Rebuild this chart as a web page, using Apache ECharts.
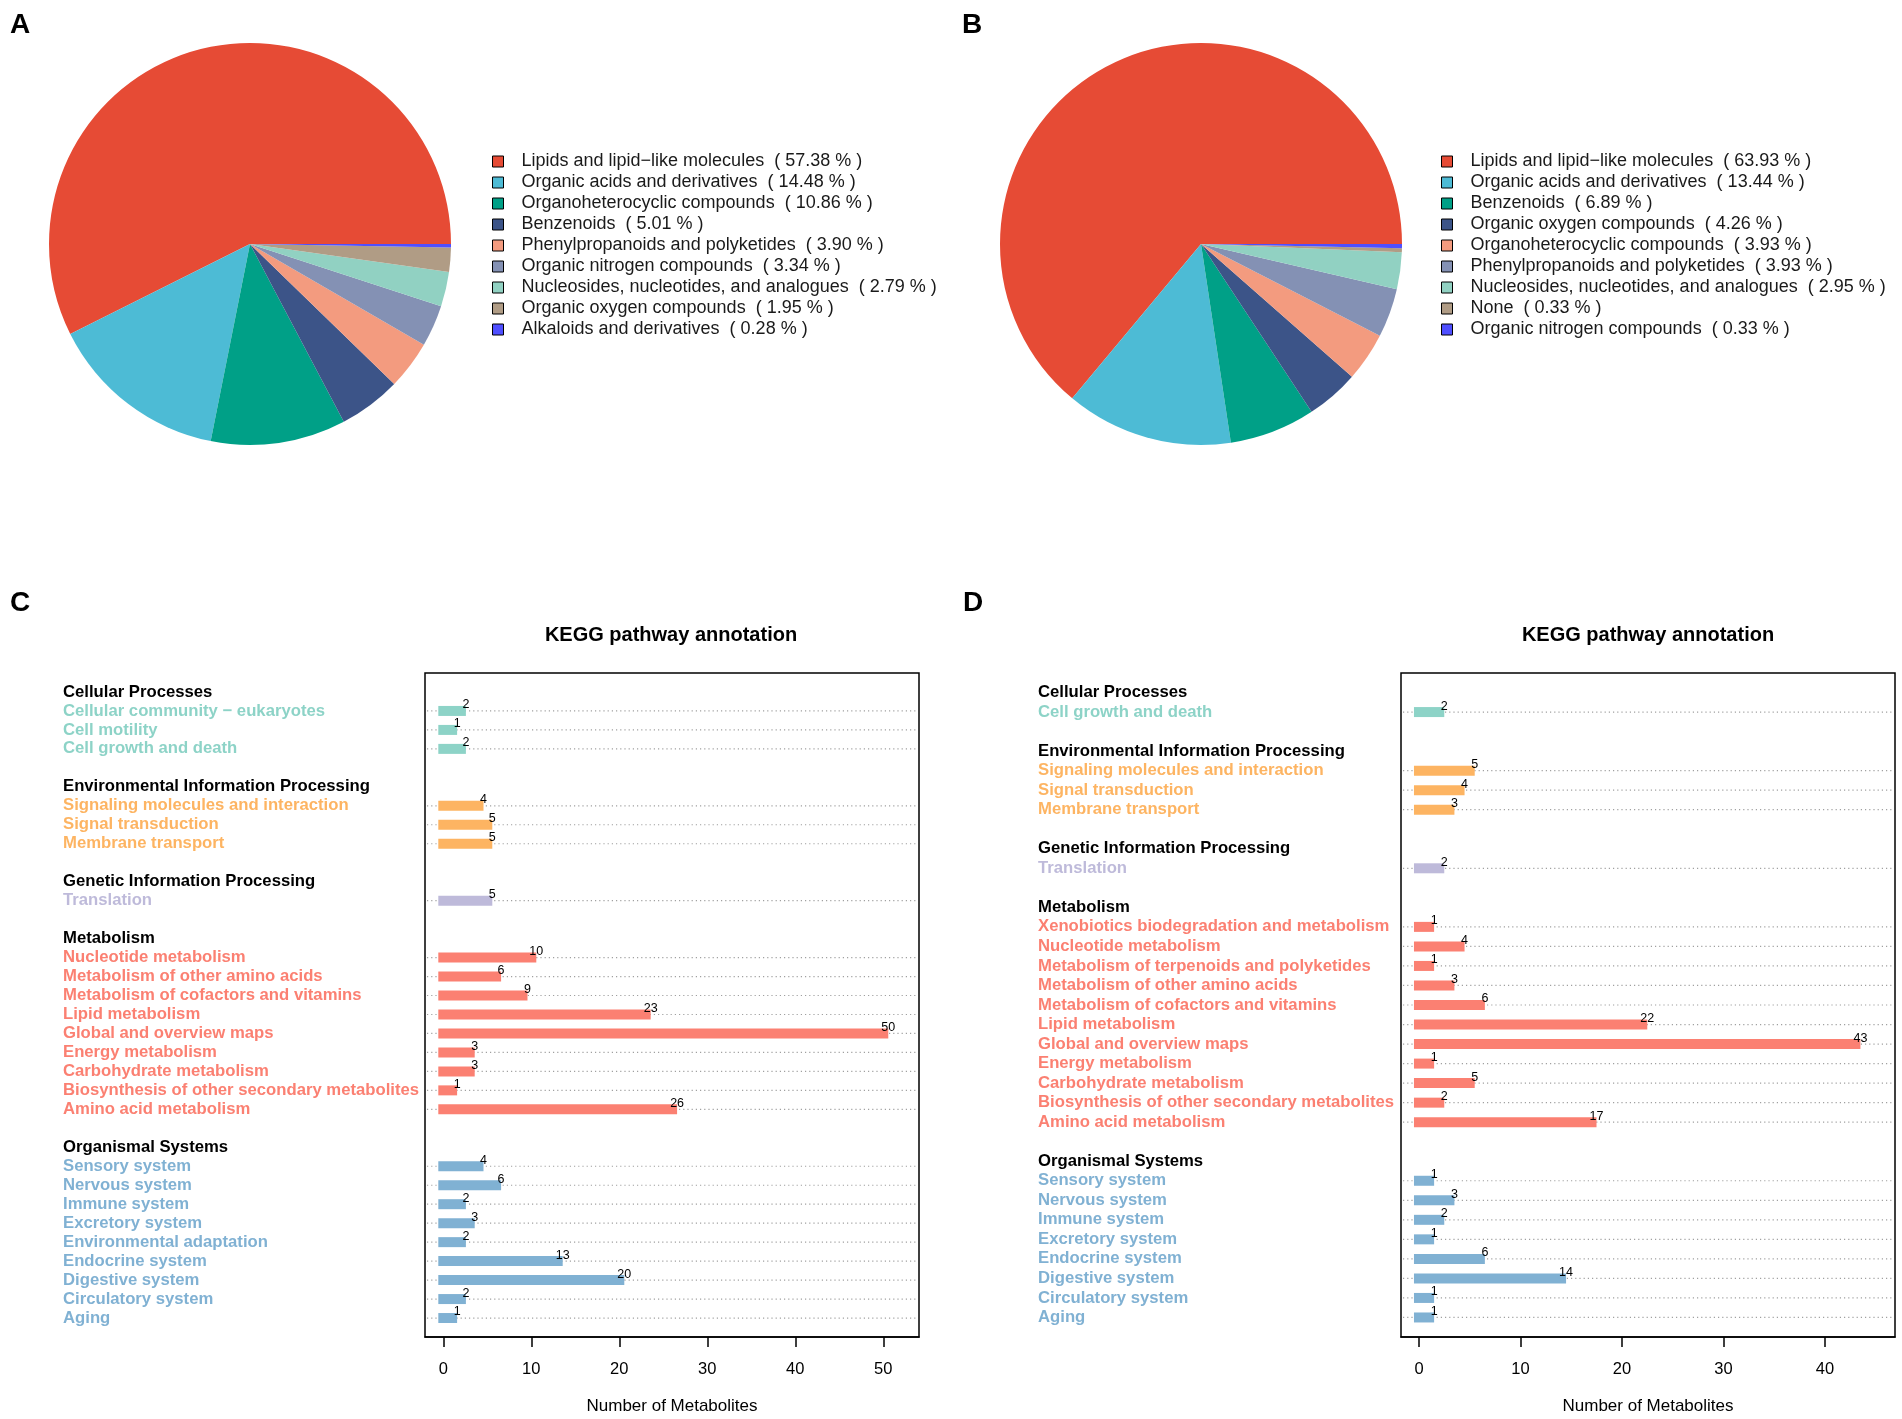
<!DOCTYPE html>
<html><head><meta charset="utf-8">
<script src="https://cdn.jsdelivr.net/npm/echarts@6/dist/echarts.min.js"></script>
<style>html,body{margin:0;padding:0;background:#fff}#c{width:1902px;height:1419px}</style>
</head><body><div id="c"></div>
<script>
const FONT = '"Liberation Sans", Arial, Helvetica, sans-serif';

// ---- Panel A (pie) ----
const pieACategories = ['Lipids and lipid\u2212like molecules','Organic acids and derivatives','Organoheterocyclic compounds','Benzenoids','Phenylpropanoids and polyketides','Organic nitrogen compounds','Nucleosides, nucleotides, and analogues','Organic oxygen compounds','Alkaloids and derivatives'];
const pieAPercents = [57.38, 14.48, 10.86, 5.01, 3.90, 3.34, 2.79, 1.95, 0.28];

// ---- Panel B (pie) ----
const pieBCategories = ['Lipids and lipid\u2212like molecules','Organic acids and derivatives','Benzenoids','Organic oxygen compounds','Organoheterocyclic compounds','Phenylpropanoids and polyketides','Nucleosides, nucleotides, and analogues','None','Organic nitrogen compounds'];
const pieBPercents = [63.93, 13.44, 6.89, 4.26, 3.93, 3.93, 2.95, 0.33, 0.33];

const pieColors = ['#E64B35','#4DBBD5','#00A087','#3C5488','#F39B7F','#8491B4','#91D1C2','#B09C85','#4F4FFF'];

// ---- KEGG groups ----
const keggGroups = ['Cellular Processes','Environmental Information Processing','Genetic Information Processing','Metabolism','Organismal Systems'];
const keggGroupColors = ['#8DD3C7','#FDB462','#BEBADA','#FB8072','#80B1D3'];

// ---- Panel C ----
const cPathways = ['Cellular community \u2212 eukaryotes','Cell motility','Cell growth and death',
  'Signaling molecules and interaction','Signal transduction','Membrane transport',
  'Translation',
  'Nucleotide metabolism','Metabolism of other amino acids','Metabolism of cofactors and vitamins','Lipid metabolism','Global and overview maps','Energy metabolism','Carbohydrate metabolism','Biosynthesis of other secondary metabolites','Amino acid metabolism',
  'Sensory system','Nervous system','Immune system','Excretory system','Environmental adaptation','Endocrine system','Digestive system','Circulatory system','Aging'];
const cGroupIdx = [0,0,0, 1,1,1, 2, 3,3,3,3,3,3,3,3,3, 4,4,4,4,4,4,4,4,4];
const cCounts = [2,1,2, 4,5,5, 5, 10,6,9,23,50,3,3,1,26, 4,6,2,3,2,13,20,2,1];
const cTicks = [0,10,20,30,40,50];

// ---- Panel D ----
const dPathways = ['Cell growth and death',
  'Signaling molecules and interaction','Signal transduction','Membrane transport',
  'Translation',
  'Xenobiotics biodegradation and metabolism','Nucleotide metabolism','Metabolism of terpenoids and polyketides','Metabolism of other amino acids','Metabolism of cofactors and vitamins','Lipid metabolism','Global and overview maps','Energy metabolism','Carbohydrate metabolism','Biosynthesis of other secondary metabolites','Amino acid metabolism',
  'Sensory system','Nervous system','Immune system','Excretory system','Endocrine system','Digestive system','Circulatory system','Aging'];
const dGroupIdx = [0, 1,1,1, 2, 3,3,3,3,3,3,3,3,3,3,3, 4,4,4,4,4,4,4,4];
const dCounts = [2, 5,4,3, 2, 1,4,1,3,6,22,43,1,5,2,17, 1,3,2,1,6,14,1,1];
const dTicks = [0,10,20,30,40];

function buildSlots(names, groups, counts){
  const cats=[''], kinds=[-1], bars=[];
  let prev=null;
  names.forEach((n,i)=>{
    const g=groups[i];
    if(g!==prev){
      if(prev!==null){cats.push(''); kinds.push(-1);}
      cats.push(keggGroups[g]); kinds.push(-2); prev=g;
    }
    cats.push(n); kinds.push(g);
    bars.push([counts[i], cats.length-1, g]);
  });
  cats.push(''); kinds.push(-1);
  return {cats,kinds,bars};
}
const slotsC = buildSlots(cPathways, cGroupIdx, cCounts);
const slotsD = buildSlots(dPathways, dGroupIdx, dCounts);

const LBL = 16.7;
const rich = {h:{fontSize:LBL,fontWeight:'bold',color:'#000',fontFamily:FONT}};
keggGroupColors.forEach((c,i)=>{rich['g'+i]={fontSize:LBL,fontWeight:'bold',color:c,fontFamily:FONT};});

function labelFormatter(kinds){
  return function(v,i){
    const k=kinds[i];
    if(k===-1||!v) return '';
    if(k===-2) return '{h|'+v+'}';
    return '{g'+k+'|'+v+'}';
  };
}

function renderBar(params, api){
  const v=api.value(0), s=api.value(1), g=api.value(2);
  const p0=api.coord([0,s]), p1=api.coord([v,s]);
  const cs=params.coordSys;
  const h=10, ext=5;
  return {type:'group', children:[
    {type:'line', shape:{x1:cs.x+2, y1:p0[1], x2:cs.x+cs.width-1, y2:p0[1]}, style:{stroke:'#a0a0a0', lineWidth:1.2, lineDash:[1.2,3]}},
    {type:'rect', shape:{x:p0[0]-ext, y:p0[1]-h/2, width:p1[0]-p0[0]+2*ext, height:h}, style:{fill:keggGroupColors[g]}},
    {type:'text', x:p1[0]+ext, y:p0[1]-6, style:{text:String(v), fill:'#000', fontSize:12.5, fontFamily:FONT, align:'center', verticalAlign:'middle'}}
  ]};
}

function pieData(cats, pcts){
  return cats.map((c,i)=>({name:c+'  ( '+pcts[i].toFixed(2)+' % )', value:pcts[i], itemStyle:{color:pieColors[i]}}));
}
const dataA=pieData(pieACategories,pieAPercents);
const dataB=pieData(pieBCategories,pieBPercents);

function legendCfg(left, data){
  return {orient:'vertical', left:left, top:146, data:data.map(d=>d.name), icon:'rect', itemWidth:11, itemHeight:11, itemGap:0,
    selectedMode:false, itemStyle:{borderColor:'#000', borderWidth:1},
    textStyle:{fontSize:18, lineHeight:21, color:'#1a1a1a', fontFamily:FONT, padding:[0,0,0,13]}};
}

function xAxisCfg(gi, min, max, ticks){
  return {gridIndex:gi, type:'value', min:min, max:max, splitLine:{show:false},
    axisLine:{show:true, lineStyle:{color:'#000', width:1.5}},
    axisTick:{show:true, length:10, customValues:ticks, lineStyle:{color:'#000', width:1.5}},
    axisLabel:{customValues:ticks, margin:24, fontSize:16.5, color:'#000', fontFamily:FONT},
    name:'Number of Metabolites', nameLocation:'middle', nameGap:61,
    nameTextStyle:{fontSize:17, color:'#000', fontFamily:FONT}};
}
function yAxisCfg(gi, slots, margin){
  return {gridIndex:gi, type:'category', inverse:true, boundaryGap:false, data:slots.cats,
    axisLine:{show:false}, axisTick:{show:false}, splitLine:{show:false},
    axisLabel:{interval:0, align:'left', margin:margin, formatter:labelFormatter(slots.kinds), rich:rich}};
}

const chart=echarts.init(document.getElementById('c'), null, {renderer:'canvas'});
chart.setOption({
  backgroundColor:'#fff',
  animation:false,
  textStyle:{fontFamily:FONT},
  legend:[legendCfg(487,dataA), legendCfg(1436,dataB)],
  grid:[
    {left:425, top:673, width:494, height:664, show:true, borderColor:'#000', borderWidth:1.5, outerBoundsMode:'none'},
    {left:1401, top:673, width:494, height:664, show:true, borderColor:'#000', borderWidth:1.5, outerBoundsMode:'none'}
  ],
  xAxis:[xAxisCfg(0,-2.08,54.06,cTicks), xAxisCfg(1,-1.77,46.9,dTicks)],
  yAxis:[yAxisCfg(0,slotsC,362), yAxisCfg(1,slotsD,363)],
  series:[
    {type:'pie', center:[250,244], radius:201, startAngle:0, clockwise:false, data:dataA,
      label:{show:false}, labelLine:{show:false}, silent:true, emphasis:{disabled:true}, itemStyle:{borderWidth:0}},
    {type:'pie', center:[1201,244], radius:201, startAngle:0, clockwise:false, data:dataB,
      label:{show:false}, labelLine:{show:false}, silent:true, emphasis:{disabled:true}, itemStyle:{borderWidth:0}},
    {type:'custom', xAxisIndex:0, yAxisIndex:0, renderItem:renderBar, data:slotsC.bars, encode:{x:0,y:1}, silent:true},
    {type:'custom', xAxisIndex:1, yAxisIndex:1, renderItem:renderBar, data:slotsD.bars, encode:{x:0,y:1}, silent:true}
  ],
  graphic:[
    {type:'text', x:20, y:25, style:{text:'A', fontSize:28, fontWeight:'bold', fontFamily:FONT, fill:'#000', align:'center', verticalAlign:'middle'}},
    {type:'text', x:972, y:25, style:{text:'B', fontSize:28, fontWeight:'bold', fontFamily:FONT, fill:'#000', align:'center', verticalAlign:'middle'}},
    {type:'text', x:20, y:603, style:{text:'C', fontSize:28, fontWeight:'bold', fontFamily:FONT, fill:'#000', align:'center', verticalAlign:'middle'}},
    {type:'text', x:973, y:603, style:{text:'D', fontSize:28, fontWeight:'bold', fontFamily:FONT, fill:'#000', align:'center', verticalAlign:'middle'}},
    {type:'text', x:671, y:635, style:{text:'KEGG pathway annotation', fontSize:20, fontWeight:'bold', fontFamily:FONT, fill:'#000', align:'center', verticalAlign:'middle'}},
    {type:'text', x:1648, y:635, style:{text:'KEGG pathway annotation', fontSize:20, fontWeight:'bold', fontFamily:FONT, fill:'#000', align:'center', verticalAlign:'middle'}}
  ]
});
</script></body></html>
